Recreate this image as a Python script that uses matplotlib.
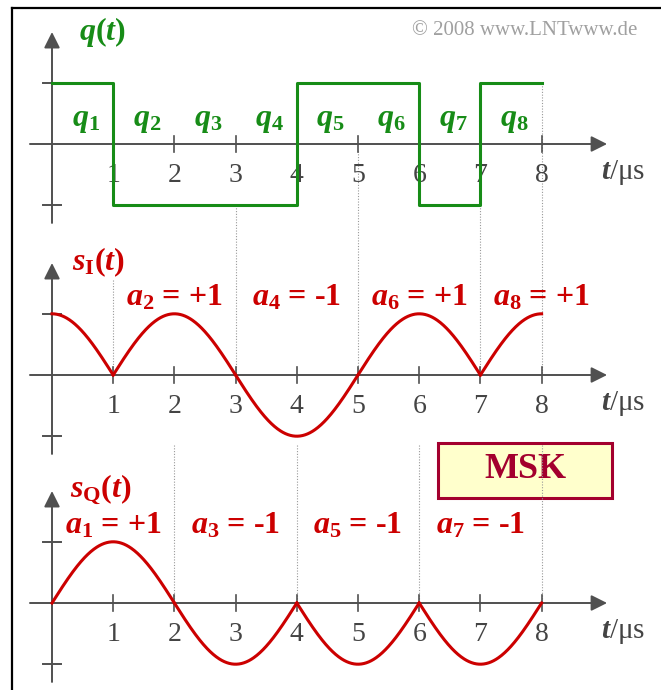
import numpy as np
import matplotlib.pyplot as plt
from matplotlib.lines import Line2D
from matplotlib.patches import Rectangle

plt.rcParams['font.family'] = 'Liberation Serif'
plt.rcParams['mathtext.fontset'] = 'custom'
plt.rcParams['mathtext.rm'] = 'Liberation Serif:bold'
plt.rcParams['mathtext.it'] = 'Liberation Serif:italic:bold'
plt.rcParams['mathtext.bf'] = 'Liberation Serif:bold'

# bit sequence q_k and the I/Q amplitude coefficients
t_ticks = [1, 2, 3, 4, 5, 6, 7, 8]
q_vals = [1, -1, -1, -1, 1, 1, -1, 1]
aI_k = [0, 2, 4, 6, 8]
aI_vals = [1, 1, -1, 1, 1]
aQ_k = [1, 3, 5, 7]
aQ_vals = [1, -1, -1, -1]

GREEN = '#178c17'
RED = '#cc0000'
AXIS = '#505050'
DARKRED = '#a3002e'

PX = 61.2  # pixels per unit
base = [(690 - 144) / PX, (690 - 375) / PX, (690 - 603) / PX]

fig = plt.figure(figsize=(6.61, 6.9), dpi=100)
ax = fig.add_axes([0, 0, 1, 1])
ax.set_xlim(-52 / PX, (661 - 52) / PX)
ax.set_ylim(0, 690 / PX)
ax.axis('off')

# frame (left and top edges only)
fig.add_artist(Line2D([12 / 661, 12 / 661], [0, 1 - 8 / 690], color='black', lw=1.6))
fig.add_artist(Line2D([12 / 661, 1], [1 - 8 / 690, 1 - 8 / 690], color='black', lw=1.6))

# dotted guide lines between panels
guides = [(1, base[1] + 1.55, base[1]), (3, base[0] - 1, base[1]),
          (5, base[0] - 0.12, base[1]), (7, base[0] - 1, base[1]),
          (8, base[0] + 1, base[1])]
for k in [2, 4, 6, 8]:
    guides.append((k, base[1] - 1.15, base[2]))

# MSK box
ax.add_patch(Rectangle((6.31, 3.14), 2.84, 0.9, facecolor='#ffffcc',
                       edgecolor=DARKRED, lw=2.2, zorder=2))
ax.text(7.73, 3.6, 'MSK', color=DARKRED, fontsize=26, fontweight='bold',
        ha='center', va='center', zorder=3)

for x, y1, y2 in guides:
    ax.plot([x, x], [y1, y2], color='#999999', lw=0.8, ls=(0, (1, 1.5)), zorder=4)

for b in base:
    # axes with arrowheads
    ax.annotate('', xy=(9.07, b), xytext=(-0.36, b),
                arrowprops=dict(arrowstyle='-|>', color=AXIS, lw=1.4,
                                mutation_scale=24, shrinkA=0, shrinkB=0), zorder=5)
    ax.annotate('', xy=(0, b + 1.83), xytext=(0, b - 1.29),
                arrowprops=dict(arrowstyle='-|>', color=AXIS, lw=1.4,
                                mutation_scale=24, shrinkA=0, shrinkB=0), zorder=5)
    for lv in (1, -1):
        ax.plot([-0.15, 0.15], [b + lv, b + lv], color=AXIS, lw=1.4, zorder=5)
    for t in t_ticks:
        ax.plot([t, t], [b - 0.13, b + 0.13], color=AXIS, lw=1.2, zorder=5)
        ax.text(t, b - 0.52, str(t), color='#444444', fontsize=20,
                ha='center', va='center', zorder=6)
    ax.text(9.33, b - 0.47, r'$t$/$\mathregular{\mu}$s', color='#444444',
            fontsize=21, ha='center', va='center')

# q(t) rectangular sequence
t_edges = np.arange(len(q_vals) + 1)
q_ext = q_vals + [q_vals[-1]]
ax.step(t_edges, base[0] + np.array(q_ext), where='post', color=GREEN,
        lw=2.2, zorder=7)
for k, q in enumerate(q_vals, start=1):
    ax.text(k - 0.45, base[0] + 0.39, r'$q_{%d}$' % k, color=GREEN, fontsize=23,
            ha='center', va='center', zorder=8)
ax.text(0.82, base[0] + 1.83, r'$q(t)$', color=GREEN, fontsize=23,
        ha='center', va='center')

# s_I(t): half-cosine pulses weighted with even-index a_k
for k, a in zip(aI_k, aI_vals):
    t = np.linspace(max(k - 1, 0), min(k + 1, 8), 200)
    ax.plot(t, base[1] + a * np.abs(np.cos(np.pi * t / 2)), color=RED,
            lw=2.2, zorder=7)
    if k > 0:
        sign = '+1' if a > 0 else '-1'
        ax.text(k, base[1] + 1.27, r'$a_{%d}$ = %s' % (k, sign), color=RED,
                fontsize=23, fontweight='bold', ha='center', va='center', zorder=8)
ax.text(0.76, base[1] + 1.85, r'$s_{\mathrm{I}}(t)$', color=RED, fontsize=23,
        ha='center', va='center')

# s_Q(t): half-sine pulses weighted with odd-index a_k
for k, a in zip(aQ_k, aQ_vals):
    t = np.linspace(max(k - 1, 0), min(k + 1, 8), 200)
    ax.plot(t, base[2] + a * np.abs(np.sin(np.pi * t / 2)), color=RED,
            lw=2.2, zorder=7)
    sign = '+1' if a > 0 else '-1'
    ax.text(k, base[2] + 1.27, r'$a_{%d}$ = %s' % (k, sign), color=RED,
            fontsize=23, fontweight='bold', ha='center', va='center', zorder=8)
ax.text(0.8, base[2] + 1.85, r'$s_{\mathrm{Q}}(t)$', color=RED, fontsize=23,
        ha='center', va='center')

ax.text(7.73, 10.78, '\u00a9 2008 www.LNTwww.de', color='#a0a0a0', fontsize=15,
        ha='center', va='center')

fig.savefig('out.png', dpi=100)
